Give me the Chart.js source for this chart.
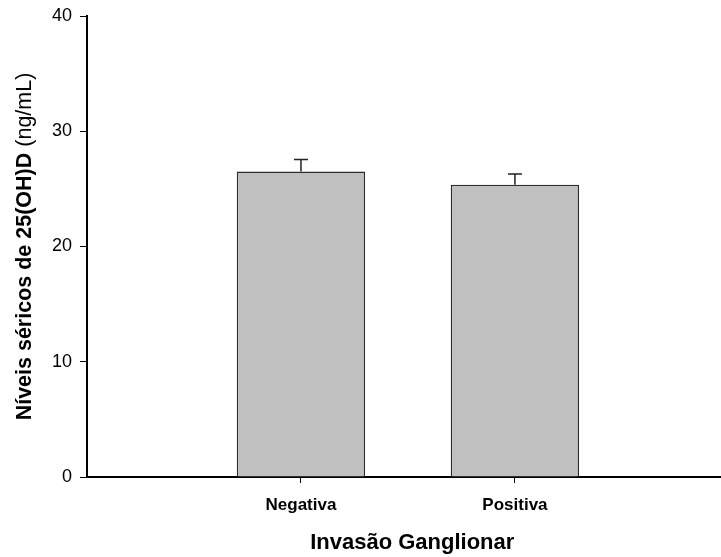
<!DOCTYPE html>
<html>
<head>
<meta charset="utf-8">
<script src="https://cdn.jsdelivr.net/npm/chart.js@4"></script>
<style>
    html, body { margin: 0; padding: 0; background: #fff; }
    #chartWrapper { width: 721px; height: 557px; }
</style>
</head>
<body>
<div id="chartWrapper"><canvas id="chart"></canvas></div>
<script>
'use strict';

// Data
const categories = ['Negativa', 'Positiva'];
const meanValues = [26.5, 25.35];
const errorValues = [1.05, 0.95];
const yTicks = [0, 10, 20, 30, 40];

const yTitleBold = 'Níveis séricos de 25(OH)D';
const yTitleUnit = '(ng/mL)';
const xTitle = 'Invasão Ganglionar';

const fontFamily = "'Liberation Sans', Arial, sans-serif";

// Category i sits at x = i + 1 on a linear axis
const barData = meanValues.map((value, i) => ({ x: i + 1, y: value }));

// Error bars (mean + SE), drawn through the chart scales
const errorBarPlugin = {
    id: 'errorBars',
    afterDatasetsDraw: function (chart) {
        const ctx = chart.ctx;
        const yScale = chart.scales.y;
        const meta = chart.getDatasetMeta(0);
        ctx.save();
        ctx.strokeStyle = '#222';
        ctx.lineWidth = 1.5;
        meta.data.forEach((bar, i) => {
            const yTop = yScale.getPixelForValue(meanValues[i] + errorValues[i]);
            const yBase = yScale.getPixelForValue(meanValues[i]);
            ctx.beginPath();
            ctx.moveTo(bar.x, yBase);
            ctx.lineTo(bar.x, yTop);
            ctx.moveTo(bar.x - 7, yTop);
            ctx.lineTo(bar.x + 7, yTop);
            ctx.stroke();
        });
        ctx.restore();
    },
};

// Axis titles: the y title mixes a bold part and a normal part
const axisTitlePlugin = {
    id: 'axisTitles',
    afterDraw: function (chart) {
        const ctx = chart.ctx;
        const area = chart.chartArea;
        const boldFont = 'bold 21.5px ' + fontFamily;
        const normalFont = '21.5px ' + fontFamily;
        ctx.save();
        ctx.fillStyle = '#000';
        ctx.textBaseline = 'middle';

        // x title, centred a little right of the two categories
        ctx.font = 'bold 22px ' + fontFamily;
        ctx.textAlign = 'center';
        ctx.fillText(xTitle, chart.scales.x.getPixelForValue(1.52), 543);

        ctx.font = boldFont;
        const boldWidth = ctx.measureText(yTitleBold + ' ').width;
        ctx.font = normalFont;
        const unitWidth = ctx.measureText(yTitleUnit).width;
        const total = boldWidth + unitWidth;
        ctx.translate(25, (area.top + area.bottom) / 2);
        ctx.rotate(-Math.PI / 2);
        ctx.textAlign = 'left';
        ctx.font = boldFont;
        ctx.fillText(yTitleBold, -total / 2, 0);
        ctx.font = normalFont;
        ctx.fillText(yTitleUnit, -total / 2 + boldWidth, 0);
        ctx.restore();
    },
};

new Chart(document.getElementById('chart'), {
    type: 'bar',
    data: {
        datasets: [
            {
                data: barData,
                backgroundColor: '#c0c0c0',
                borderColor: '#2b2b2b',
                borderWidth: 1.5,
                barPercentage: 0.6,
                categoryPercentage: 1.0,
            },
        ],
    },
    options: {
        responsive: true,
        maintainAspectRatio: false,
        animation: false,
        layout: {
            padding: { top: 16, right: 0, bottom: 0, left: 0 },
        },
        plugins: {
            legend: { display: false },
            tooltip: { enabled: false },
        },
        scales: {
            x: {
                type: 'linear',
                offset: false,
                min: 0,
                max: 2.963,
                afterBuildTicks: function (scale) {
                    scale.ticks = categories.map((c, i) => ({ value: i + 1 }));
                },
                afterFit: function (scale) {
                    scale.height = 80;
                },
                ticks: {
                    color: '#000',
                    font: { family: fontFamily, size: 17, weight: 'bold' },
                    padding: 12,
                    maxRotation: 0,
                    callback: function (value) {
                        return categories[value - 1];
                    },
                },
                grid: {
                    offset: false,
                    drawOnChartArea: false,
                    color: '#000',
                    lineWidth: 1,
                    tickLength: 6,
                },
                border: { color: '#000', width: 2 },
            },
            y: {
                min: 0,
                max: 40,
                afterBuildTicks: function (scale) {
                    scale.ticks = yTicks.map((v) => ({ value: v }));
                },
                afterFit: function (scale) {
                    // fixed axis width, and let the layout padding set the top
                    scale.width = 87;
                    scale.paddingTop = 0;
                    scale.paddingBottom = 0;
                },
                ticks: {
                    color: '#000',
                    font: { family: fontFamily, size: 18 },
                    padding: 8,
                },
                grid: {
                    drawOnChartArea: false,
                    color: '#000',
                    lineWidth: 1,
                    tickLength: 7,
                },
                border: { color: '#000', width: 2 },
            },
        },
    },
    plugins: [errorBarPlugin, axisTitlePlugin],
});
</script>
</body>
</html>
